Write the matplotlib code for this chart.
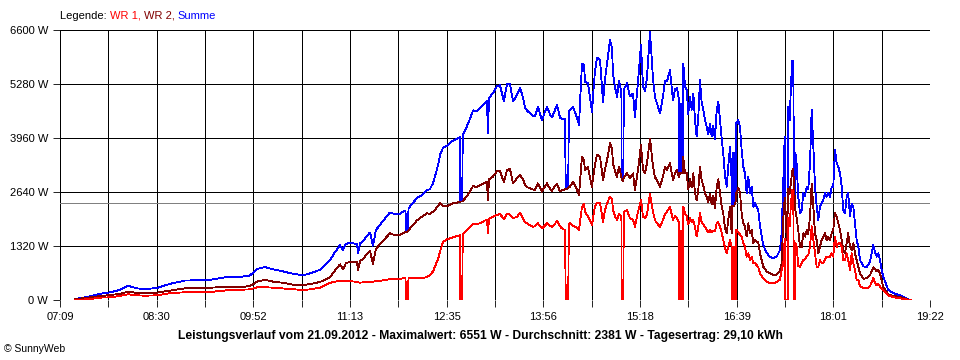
import numpy as np
import matplotlib
matplotlib.use("Agg")
import matplotlib.pyplot as plt

# ---------------- data (time in minutes after midnight, power in W) ----------------
t_min = [
    441.6, 452.6, 464.4, 471.1, 479.6, 486.3, 493.9, 500.6, 510.7, 521.7, 534.3, 547.0,
    555.4, 563.8, 572.2, 580.7, 589.1, 595.0, 601.7, 608.5, 616.9, 625.3, 633.7, 639.6, 648.1,
    656.5, 660.7, 664.9, 667.4, 669.9, 673.3, 679.2, 680.1, 681.8, 684.3, 687.6, 690.2, 692.7,
    695.2, 698.6, 702.8, 707.0, 711.3, 715.5, 718.8, 720.1, 720.5, 722.2, 722.6, 723.9, 726.4,
    729.8, 732.3,
    738.2, 740.7, 743.3, 744.9, 747.5, 749.2, 751.7, 755.0, 757.6, 760.1, 763.5, 766.0, 766.3,
    767.9, 768.3, 771.9, 774.4, 777.0, 780.3, 782.9, 786.2, 788.7, 789.6, 790.4, 793.8, 797.2,
    799.7, 803.0, 805.6, 808.1, 810.7, 814.0, 816.6,
    819.1, 820.8, 822.4, 825.0, 827.5, 829.2, 831.7, 833.4, 835.1, 837.6, 839.3, 841.8, 843.5,
    846.0, 847.7, 850.3, 851.9, 854.5, 855.1, 857.2, 857.7, 858.7, 861.2, 862.9, 864.6, 866.3,
    867.1, 868.8, 870.5, 871.3, 873.8, 875.5, 877.2, 878.9, 879.7, 881.4, 884.0,
    886.5, 888.2, 889.9, 892.4, 894.1, 894.9, 896.6, 898.3, 900.0, 900.8, 902.0, 902.2, 903.6,
    904.0, 906.7, 909.2, 911.8, 913.4, 916.0, 918.5, 920.2, 921.9, 923.5, 926.1, 928.6, 930.3,
    932.0, 934.5, 937.0, 938.7, 940.4, 942.9, 945.5, 947.1, 948.8, 950.5, 950.8, 951.4, 951.7,
    952.2, 952.5, 953.6, 954.1,
    955.6, 957.0, 958.3, 959.8, 961.2, 962.6, 964.0, 965.4, 966.8, 968.2, 969.6, 971.0, 972.4,
    973.8, 975.2, 976.6, 978.1, 979.4, 980.8, 982.3, 983.6, 985.1, 986.5, 987.8, 989.3, 990.7,
    992.0, 993.5, 994.9, 995.2, 995.4, 996.0, 996.3, 996.7, 997.0, 998.2, 998.5, 999.1, 1000.5,
    1001.9, 1003.3, 1004.7, 1006.1, 1007.5, 1008.9, 1010.3, 1011.8, 1013.1, 1014.5, 1016.0,
    1017.3, 1018.8, 1021.5, 1024.4, 1027.2, 1030.0, 1032.8, 1035.6, 1037.0,
    1038.4, 1039.6, 1040.0, 1041.3, 1042.1, 1042.4, 1043.8, 1044.9, 1046.0, 1046.8, 1047.4,
    1048.2, 1048.6, 1049.7, 1051.0, 1052.5, 1053.9, 1055.2, 1056.7, 1058.1, 1059.4, 1060.9,
    1062.3, 1063.7, 1065.1, 1066.5, 1067.9, 1069.3, 1070.7, 1072.1, 1073.5, 1074.9, 1076.3,
    1077.7, 1079.2, 1080.5, 1081.9, 1083.4, 1084.7, 1086.2, 1087.6, 1088.9, 1090.4, 1091.8,
    1093.1, 1094.6, 1096.0, 1097.4, 1098.8, 1100.2, 1101.6, 1103.0, 1105.8, 1108.6, 1111.4,
    1114.2, 1115.6, 1117.1, 1118.4, 1119.9, 1121.3, 1122.6, 1126.8, 1131.1, 1136.7, 1143.7,
    1146.0,
]

wr1 = [
    0, 20, 60, 65, 100, 140, 115, 105, 115, 165, 190, 195,
    195, 220, 245, 250, 260, 310, 315, 300, 280, 265, 245, 260, 300,
    420, 450, 470, 470, 470, 465, 440, 430, 425, 430, 440, 450, 450,
    460, 470, 490, 510, 515, 520, 530, 530, 0, 0, 540, 540, 545,
    545, 530,
    560, 610, 700, 815, 1000, 1180, 1425, 1480, 1510, 1530, 1565, 1580, 0,
    0, 1600, 1710, 1780, 1850, 1860, 1875, 1930, 1970, 1630, 1990, 2040, 2080,
    2100, 1980, 2100, 2090, 2000, 2030, 2135,
    2000, 1900, 1875, 1830, 1790, 1800, 1875, 1800, 1750, 1820, 1875, 1820, 1790,
    1860, 1940, 1800, 1750, 1710, 0, 0, 1850, 1875, 1820, 1790, 1760, 1710,
    1900, 2280, 2350, 2160, 2040, 1950, 1830, 2150, 2280, 2380, 2365,
    1915, 2200, 2365, 2525, 2450, 2200, 2050, 1955, 2100, 2080, 2050, 0, 0,
    2150, 2200, 2000, 1955, 1790, 2160, 2445, 2040, 2000, 2080, 2600, 2160, 1950,
    1875, 1790, 1955, 2100, 2160, 2280, 1955, 2050, 2000, 1900, 0, 0, 1700,
    1700, 0, 0, 2280,
    2120, 2050, 1850, 2000, 1900, 1950, 1790, 1550, 1790, 2120, 1900, 1850, 1790,
    1710, 1650, 1710, 1650, 1700, 1680, 1875, 1900, 1790, 1650, 1465, 1280, 1140,
    1300, 1465, 1300, 1300, 0, 0, 1300, 1300, 0, 0, 1710, 1710, 1650,
    1600, 1550, 1385, 1300, 1060, 1140, 980, 1060, 895, 900, 850,
    800, 650, 530, 450, 405, 410, 440, 500, 735,
    900, 1500, 0, 0, 0, 2000, 1800, 2400, 2700, 2650, 0,
    0, 1400, 1300, 825, 815, 900, 980, 1000, 1060, 1100, 1300,
    1800, 1470, 1140, 815, 815, 980, 900, 900, 980, 1060, 1060,
    1060, 1140, 1060, 1545, 1300, 1385, 1385, 1305, 980, 980, 1140,
    980, 740, 1140, 895, 735, 485, 490, 330, 300, 280, 330,
    540, 420, 360, 400, 330, 270, 245, 110, 70, 40, 5,
    0,
]

wr2 = [
    20, 60, 100, 120, 150, 205, 170, 160, 180, 230, 285, 290,
    300, 315, 325, 315, 340, 450, 490, 450, 420, 375, 360, 390, 440,
    560, 720, 870, 750, 900, 930, 930, 720, 960, 1000, 1130, 1200, 880,
    1250, 1370, 1500, 1630, 1580, 1590, 1640, 1660, 1660, 1680, 1690, 1750, 1830,
    1950, 2000,
    2120, 2100, 2160, 2200, 2300, 2365, 2300, 2285, 2330, 2365, 2380, 2405, 2405,
    2410, 2420, 2540, 2650, 2785, 2760, 2810, 2850, 2890, 2445, 2950, 3015, 3150,
    3150, 2880, 3180, 3200, 2850, 2980, 3055,
    2950, 2810, 2760, 2730, 2700, 2690, 2850, 2750, 2650, 2780, 2850, 2720, 2670,
    2780, 2835, 2650, 2680, 2705, 2705, 2740, 2760, 2770, 2890, 2800, 2690, 2565,
    2900, 3500, 3400, 3180, 3260, 3000, 2770, 3150, 3300, 3550, 3500,
    2930, 3200, 3420, 3830, 3700, 3340, 3150, 3015, 3250, 3180, 3000, 2950, 2900,
    3000, 3095, 2975, 3095, 2690, 3180, 3790, 3180, 3100, 3340, 3950, 3260, 3000,
    2930, 2770, 3015, 3250, 3180, 3340, 2930, 3100, 3180, 3000, 3050, 3095, 3100,
    3100, 3100, 3100, 3500,
    3095, 3100, 2700, 2970, 2750, 3100, 2610, 2445, 2700, 3260, 2930, 2800, 2610,
    2530, 2400, 2600, 2350, 2550, 2250, 2770, 2950, 2610, 2280, 2120, 1750, 1630,
    1950, 2280, 1630, 2000, 2300, 2300, 2300, 2300, 2300, 2400, 2610, 2610, 2750,
    2635, 2115, 1875, 1795, 1550, 1875, 1630, 1710, 1385, 1465, 1430,
    1400, 1140, 815, 700, 650, 610, 620, 720, 895,
    2000, 2500, 2400, 1465, 2200, 2725, 2600, 2900, 3150, 3200, 2800,
    2400, 2200, 2000, 1700, 1305, 1300, 1630, 1550, 1710, 1600, 2040,
    2850, 2280, 1630, 1465, 1140, 1300, 1465, 1550, 1630, 1465, 1550,
    1465, 1630, 1710, 2120, 2040, 1875, 1710, 1465, 1220, 1140, 1385,
    1630, 1300, 1220, 1385, 1140, 980, 815, 650, 520, 530, 600,
    800, 760, 700, 740, 650, 465, 325, 135, 100, 75, 10,
    0,
]

summe = [a + b for a, b in zip(wr1, wr2)]

x_start, x_end = 429, 1162          # 07:09 .. 19:22
x_tick_labels = ["07:09", "08:30", "09:52", "11:13", "12:35",
                 "13:56", "15:18", "16:39", "18:01", "19:22"]
y_ticks = [0, 1320, 2640, 3960, 5280, 6600]
durchschnitt = 2381
title_text = ("Leistungsverlauf vom 21.09.2012 - Maximalwert: 6551 W - "
              "Durchschnitt: 2381 W - Tagesertrag: 29,10 kWh")
legend_parts = [("Legende: ", "black"), ("WR 1, ", "#ff0000"),
                ("WR 2, ", "#800000"), ("Summe", "#0000ff")]

# ---------------- figure ----------------
plt.rcParams['font.family'] = ['Liberation Sans', 'DejaVu Sans']
W, H = 960, 360
fig = plt.figure(figsize=(W / 100, H / 100), dpi=100)
fig.patch.set_facecolor("white")
ax = fig.add_axes([60 / W, 1 - 300 / H, 870 / W, 270 / H])

lw = 0.6
grid_x = np.linspace(x_start, x_end, 2 * (len(x_tick_labels) - 1) + 1)

for gx in grid_x:
    ax.axvline(gx, color="black", lw=lw, antialiased=False, zorder=1)
for gy in y_ticks:
    ax.axhline(gy, color="black", lw=lw, antialiased=False, zorder=1)
ax.axhline(durchschnitt, color="#808080", lw=lw, antialiased=False, zorder=1)

ax.plot(t_min, summe, color="#0000ff", lw=lw, antialiased=False, zorder=3)
ax.plot(t_min, wr2, color="#800000", lw=lw, antialiased=False, zorder=4)
ax.plot(t_min, wr1, color="#ff0000", lw=lw, antialiased=False, zorder=5)

ax.set_xlim(x_start, x_end)
ax.set_ylim(0, 6600)
for s in ax.spines.values():
    s.set_visible(False)

ax.set_xticks(grid_x)
ax.set_xticklabels([x_tick_labels[i // 2] if i % 2 == 0 else "" for i in range(len(grid_x))])
ax.set_yticks(y_ticks)
ax.set_yticklabels([f"{v} W" for v in y_ticks])
ax.tick_params(axis="both", length=5, width=lw, color="black",
               labelsize=8, pad=3.5)
ax.tick_params(axis="x", pad=4)

# legend line at top
fig.canvas.draw()
renderer = fig.canvas.get_renderer()
x_px = 60
for txt, col in legend_parts:
    t = fig.text(x_px / W, 1 - 16 / H, txt, color=col, fontsize=8,
                 ha="left", va="center")
    bb = t.get_window_extent(renderer=renderer)
    x_px += bb.width

fig.text(480 / W, 1 - 336 / H, title_text, fontsize=8.7, fontweight="bold",
         ha="center", va="center")
fig.text(4 / W, 1 - 349 / H, "\u00a9 SunnyWeb", fontsize=7.5,
         ha="left", va="center")

fig.savefig("out.png", dpi=100)
